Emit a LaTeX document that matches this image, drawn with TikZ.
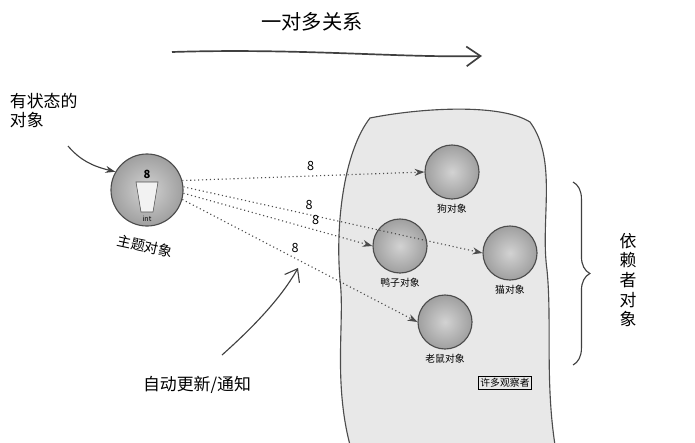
\documentclass[tikz,border=0pt]{standalone}
\usepackage{fontspec}
\setmainfont{Noto Sans CJK SC}
\usetikzlibrary{arrows.meta,positioning,decorations.pathreplacing}

\begin{document}
\begin{tikzpicture}[
    x = 0.025cm, y = -0.025cm,
    > = {Stealth[length=7pt,width=5pt]}, % arrow head style
    ball/.style = {circle, draw = black!70, thick, inner color = gray!35, outer color = gray!75},
    notify/.style = {->, dotted, thick, draw = black!70},
    hand/.style = {->, thick, draw = black!75},
    lbl/.style = {font = \scriptsize},
    num/.style = {font = \small}
    ]
    \useasboundingbox (0,0) rectangle (695,442);

    % observer cloud
    \path[fill = gray!18, draw = black!70, thick]
      (370,118) .. controls (420,108) and (500,103) .. (530,122)
      .. controls (558,160) and (540,220) .. (547,270)
      .. controls (552,320) and (545,380) .. (555,445)
      -- (350,445) .. controls (333,380) and (345,320) .. (340,280)
      .. controls (335,220) and (345,150) .. (370,118) -- cycle;

    % subject
    \node[ball, minimum size = 1.8cm] (subj) at (147,190) {};
    \node[font = \footnotesize\bfseries] (val) at (147,174) {8};
    \draw[black!70, fill = white!90!gray] (136,182) -- (158,182) -- (153,212) -- (141,212) -- cycle;
    \node[font = \tiny, inner sep = 0pt] (ty) at (147,219) {int};
    \node[rotate = -12, inner sep = 1pt] (subjlbl) at (145,246) {主题对象};

    % observers
    \node[ball, minimum size = 1.35cm] (dog) at (452,172) {};
    \node[ball, minimum size = 1.35cm] (duck) at (400,246) {};
    \node[ball, minimum size = 1.35cm] (cat) at (510,253) {};
    \node[ball, minimum size = 1.35cm] (mouse) at (445,322) {};
    \node[lbl, below = 0pt of dog] (doglbl) {狗对象};
    \node[lbl, below = 0pt of duck] (ducklbl) {鸭子对象};
    \node[lbl, below = 0pt of cat] (catlbl) {猫对象};
    \node[lbl, below = 0pt of mouse] (mouselbl) {老鼠对象};
    \node[draw, thick, font = \scriptsize, inner sep = 1.5pt] (many) at (505,383) {许多观察者};

    % notifications
    \draw[notify] (subj.15) -- node[pos = 0.53, above, num]{8} (dog.west);
    \draw[notify] (subj.5) -- node[pos = 0.42, above, num]{8} (cat.west);
    \draw[notify] (subj.-5) -- node[pos = 0.7, above, num]{8} (duck.west);
    \draw[notify] (subj.-15) -- node[pos = 0.48, above, num]{8} (mouse.west);

    % titles and hand-drawn arrows
    \node[font = \Large] (title) at (312,22) {一对多关系};
    \coordinate (t0) at (172,52);
    \coordinate (t1) at (482,56);
    \draw[hand, very thick, -{Straight Barb[length=10pt,width=14pt]}] (t0) .. controls (300,48) and (400,58) .. (t1);

    \node[align = left, anchor = north west, font = \large] (state) at (5,88) {有状态的\\对象};
    \coordinate (s0) at (68,146);
    \draw[hand] (s0) .. controls (80,160) and (92,166) .. (subj.150);

    \node[font = \large] (auto) at (197,385) {自动更新/通知};
    \coordinate (a0) at (222,355);
    \coordinate (a1) at (298,268);
    \draw[hand, -{Straight Barb[length=8pt,width=12pt]}] (a0) .. controls (250,330) and (280,300) .. (a1);

    % dependents
    \coordinate (b0) at (573,182);
    \coordinate (b1) at (573,365);
    \draw[decorate, decoration = {brace, amplitude = 12pt}, thick, black!75] (b0) -- (b1);
    \node[align = center, font = \large, anchor = north] (dep) at (628,228) {依\\赖\\者\\对\\象};
\end{tikzpicture}
\end{document}
